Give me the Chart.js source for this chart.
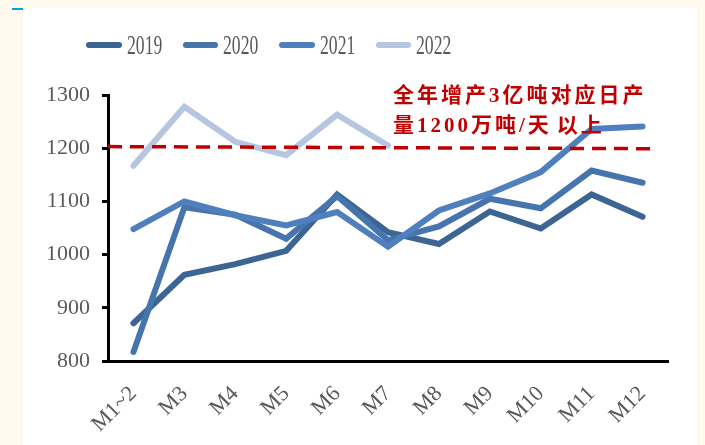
<!DOCTYPE html>
<html>
<head>
<meta charset="utf-8">
<script src="https://cdn.jsdelivr.net/npm/chart.js@4"></script>
<style>
    html, body { margin: 0; padding: 0; }
    body { width: 705px; height: 445px; background: #fff9ee; position: relative; overflow: hidden; }
    #panel { position: absolute; left: 23px; top: 8px; width: 674px; height: 437px; background: #fff; }
    #mark { position: absolute; left: 12px; top: 8px; width: 11px; height: 2px; background: #00a0e6; }
    #wrap { position: absolute; left: 0; top: 0; width: 705px; height: 445px; }
    #legend { position: absolute; left: 86px; top: 28px; display: flex; font-family: "Liberation Serif", serif; font-size: 28px; color: #595959; }
    .item { display: flex; align-items: center; width: 96.5px; }
    .swatch { width: 40px; height: 6px; border-radius: 3px; margin-right: 5px; }
    .lbl { display: inline-block; transform: scaleX(0.63); transform-origin: left center; line-height: 34px; }
    #note { position: absolute; left: 393px; top: 80px; color: #c00000; font-family: "Liberation Serif", "Noto Sans CJK SC", serif; font-weight: bold; font-size: 21px; line-height: 30px; letter-spacing: 3px; }
    #note .gap { letter-spacing: 0; margin-right: 5px; }
</style>
</head>
<body>
<div id="panel"></div>
<div id="mark"></div>
<div id="wrap"><canvas id="chart" width="705" height="445"></canvas></div>
<div id="legend"></div>
<div id="note">全年增产3亿吨对应日产<br>量1200万吨/天<span class="gap"></span>以上</div>
<script>
// monthly average daily output, 万吨/天
const months = ['M1~2', 'M3', 'M4', 'M5', 'M6', 'M7', 'M8', 'M9', 'M10', 'M11', 'M12'];
const y2019 = [871, 962, 982, 1007, 1113, 1042, 1020, 1081, 1049, 1113, 1071];
const y2020 = [817, 1089, 1075, 1030, 1110, 1027, 1053, 1105, 1087, 1158, 1135];
const y2021 = [1048, 1100, 1074, 1055, 1080, 1015, 1083, 1115, 1155, 1236, 1241];
const y2022 = [1167, 1278, 1212, 1187, 1263, 1205, null, null, null, null, null];
const refLineX = [-0.5, 10.3];
const refLineY = [1203, 1199];
const yTicks = [800, 900, 1000, 1100, 1200, 1300];

const series = [
    { label: '2019', data: y2019, color: '#3c6594', order: 4 },
    { label: '2020', data: y2020, color: '#4674ad', order: 3 },
    { label: '2021', data: y2021, color: '#4f80bd', order: 2 },
    { label: '2022', data: y2022, color: '#b6c6e0', order: 1 }
];

const legend = document.getElementById('legend');
series.forEach(s => {
    const item = document.createElement('div');
    item.className = 'item';
    item.innerHTML = '<span class="swatch" style="background:' + s.color + '"></span><span class="lbl">' + s.label + '</span>';
    legend.appendChild(item);
});

const datasets = series.map(s => ({
    label: s.label,
    data: s.data,
    borderColor: s.color,
    backgroundColor: s.color,
    borderWidth: 6,
    borderCapStyle: 'round',
    pointRadius: 0,
    tension: 0,
    spanGaps: false,
    order: s.order
}));

datasets.push({
    label: 'ref',
    xAxisID: 'x2',
    data: refLineX.map((x, i) => ({ x: x, y: refLineY[i] })),
    borderColor: '#c00000',
    borderWidth: 3.5,
    borderDash: [14, 8],
    pointRadius: 0,
    order: 0
});

const ctx = document.getElementById('chart').getContext('2d');
new Chart(ctx, {
    type: 'line',
    data: { labels: months, datasets: datasets },
    options: {
        responsive: false,
        animation: false,
        layout: { padding: { left: 0, right: 37, top: 95, bottom: 0 } },
        plugins: { legend: { display: false }, tooltip: { enabled: false } },
        scales: {
            x: {
                type: 'category',
                offset: true,
                grid: { display: false, drawTicks: false },
                border: { display: true, color: '#000', width: 3 },
                ticks: {
                    autoSkip: false,
                    maxRotation: 45,
                    minRotation: 45,
                    padding: 20,
                    color: '#595959',
                    font: { family: 'Liberation Serif', size: 22 }
                },
                afterFit: s => { s.height = 84; }
            },
            x2: {
                type: 'linear',
                display: false,
                min: -0.5,
                max: 10.5
            },
            y: {
                min: 800,
                max: 1300,
                afterBuildTicks: s => { s.ticks = yTicks.map(v => ({ value: v })); },
                grid: { display: true, drawOnChartArea: false, drawTicks: true, tickLength: 6, tickColor: '#000', tickWidth: 3 },
                border: { display: true, color: '#000', width: 3 },
                ticks: {
                    padding: 12,
                    color: '#595959',
                    font: { family: 'Liberation Serif', size: 22 },
                    callback: v => String(v)
                },
                afterFit: s => { s.width = 108; }
            }
        }
    }
});
</script>
</body>
</html>
